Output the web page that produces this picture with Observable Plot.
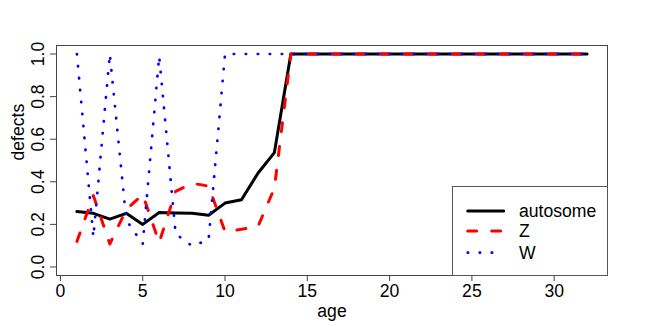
<!DOCTYPE html>
<html>
<head>
<meta charset="utf-8">
<script src="https://cdn.jsdelivr.net/npm/d3@7"></script>
<script src="https://cdn.jsdelivr.net/npm/@observablehq/plot@0.6"></script>
<style>
  html, body { margin: 0; padding: 0; background: #fff; }
  #wrap { position: relative; width: 664px; height: 332px; font-family: "Liberation Sans", Arial, sans-serif; }
  #legend { position: absolute; left: 452px; top: 186px; width: 154px; height: 88px; border: 1px solid #555; background: #fff; box-sizing: content-box; }
  #legend svg { position: absolute; left: 0; top: 0; }
</style>
</head>
<body>
<div id="wrap"></div>
<script>
const ages = [1,2,3,4,5,6,7,8,9,10,11,12,13,14,15,16,17,18,19,20,21,22,23,24,25,26,27,28,29,30,31,32];
const autosome = [0.26,0.252,0.225,0.252,0.20,0.256,0.254,0.252,0.243,0.30,0.316,0.44,0.537,1,1,1,1,1,1,1,1,1,1,1,1,1,1,1,1,1,1,1];
const zChrom = [0.12,0.335,0.108,0.27,0.34,0.115,0.355,0.393,0.38,0.166,0.177,0.19,0.37,1,1,1,1,1,1,1,1,1,1,1,1,1,1,1,1,1,1,1];
const wChrom = [1.0,0.14,1.0,0.22,0.108,0.99,0.155,0.099,0.127,1,1,1,1,1,1,1,1,1,1,1,1,1,1,1,1,1,1,1,1,1,1,1];
const seriesNames = ["autosome", "Z", "W"];
const xTicks = [0,5,10,15,20,25,30];
const yTicks = [0,0.2,0.4,0.6,0.8,1.0];

const rows = (vals) => ages.map((a, i) => ({age: a, v: vals[i]}));
const fontSize = 17.6;
const fmt = d3.format(".1f");

const chart = Plot.plot({
  width: 664,
  height: 332,
  marginLeft: 56,
  marginRight: 57,
  marginTop: 45,
  marginBottom: 57,
  style: {fontFamily: '"Liberation Sans", Arial, sans-serif', fontSize: fontSize + "px", color: "#000", background: "#fff"},
  x: {domain: [-0.24, 33.24]},
  y: {domain: [-0.04, 1.04]},
  marks: [
    Plot.frame({stroke: "#444"}),
    Plot.axisX({ticks: xTicks, tickSize: 6, tickPadding: 2.5, stroke: "#444", label: null, fontSize: fontSize}),
    Plot.axisY({ticks: yTicks, tickSize: 6, tickPadding: 7, tickFormat: fmt, tickRotate: -90, label: null, stroke: "#444", fontSize: fontSize}),
    Plot.text(["age"], {frameAnchor: "bottom", dy: 36, text: d => d, fontSize: fontSize, lineAnchor: "middle", fill: "#000"}),
    Plot.text(["defects"], {frameAnchor: "left", dx: -38.3, rotate: -90, text: d => d, fontSize: fontSize, lineAnchor: "middle", fill: "#000"}),
    Plot.line(rows(autosome), {x: "age", y: "v", stroke: "#000", strokeWidth: 3, strokeLinejoin: "round", strokeLinecap: "round"}),
    Plot.line(rows(zChrom), {x: "age", y: "v", stroke: "#ff0000", strokeWidth: 3, strokeDasharray: "9,15", strokeLinejoin: "round", strokeLinecap: "round"}),
    Plot.line(rows(wChrom), {x: "age", y: "v", stroke: "#0000ff", strokeWidth: 2.7, strokeDasharray: "0.4,11.6", strokeLinejoin: "round", strokeLinecap: "round"})
  ]
});
const wrap = document.getElementById("wrap");
wrap.appendChild(chart);

// legend
const legendStyles = [
  {stroke: "#000", dash: null, width: 3},
  {stroke: "#ff0000", dash: "9,15", width: 3},
  {stroke: "#0000ff", dash: "0.4,11.6", width: 2.7}
];
const legend = document.createElement("div");
legend.id = "legend";
const rowCenters = [24, 44, 65.7];
const svgNS = "http://www.w3.org/2000/svg";
const lsvg = document.createElementNS(svgNS, "svg");
lsvg.setAttribute("width", 154);
lsvg.setAttribute("height", 88);
seriesNames.forEach((name, i) => {
  const ln = document.createElementNS(svgNS, "line");
  ln.setAttribute("x1", 14.7); ln.setAttribute("x2", 50.7);
  ln.setAttribute("y1", rowCenters[i]); ln.setAttribute("y2", rowCenters[i]);
  ln.setAttribute("stroke", legendStyles[i].stroke);
  ln.setAttribute("stroke-width", legendStyles[i].width);
  ln.setAttribute("stroke-linecap", "round");
  if (legendStyles[i].dash) ln.setAttribute("stroke-dasharray", legendStyles[i].dash);
  lsvg.appendChild(ln);
  const t = document.createElementNS(svgNS, "text");
  t.setAttribute("x", 66); t.setAttribute("y", rowCenters[i]);
  t.setAttribute("dy", "0.35em");
  t.setAttribute("font-size", fontSize);
  t.setAttribute("font-family", '"Liberation Sans", Arial, sans-serif');
  t.textContent = name;
  lsvg.appendChild(t);
});
legend.appendChild(lsvg);
wrap.appendChild(legend);
</script>
</body>
</html>
